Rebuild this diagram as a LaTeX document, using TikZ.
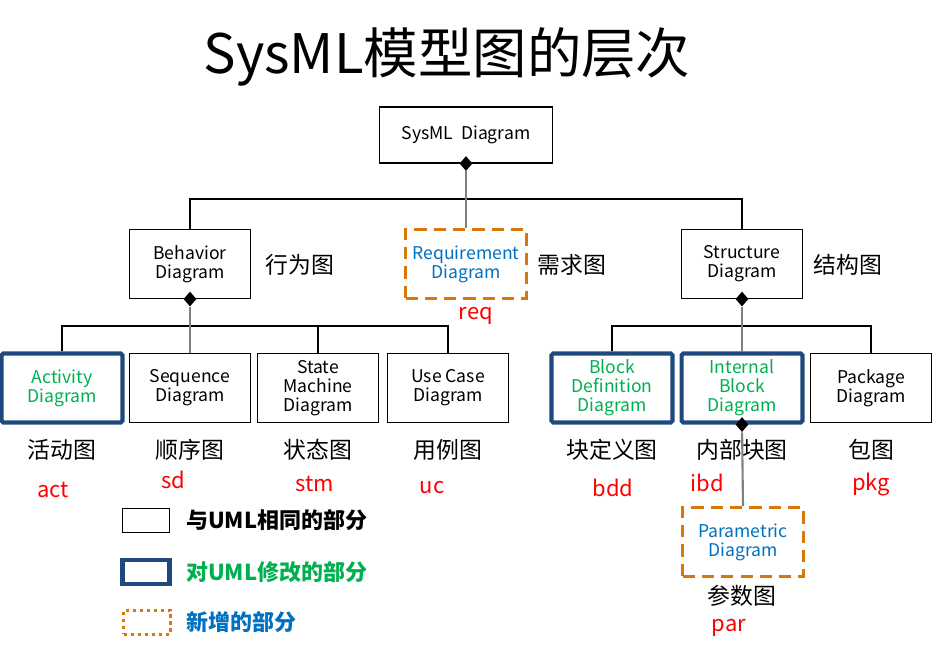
\documentclass[tikz,border=0pt]{standalone}
\usepackage{fontspec}
\setmainfont{Noto Sans CJK SC}
\usetikzlibrary{calc}
\usetikzlibrary{shapes.geometric}
\definecolor{modblue}{RGB}{31,73,125}
\definecolor{newblue}{RGB}{0,112,192}
\definecolor{modgreen}{RGB}{0,176,80}
\definecolor{addorange}{RGB}{217,120,10}
\tikzset{
  dgm/.style={draw,line width=0.6pt,minimum width=2.42cm,minimum height=1.38cm,
    align=center,inner sep=1pt,font=\fontsize{10}{10.8}\selectfont},
  modified/.style={dgm,draw=modblue,line width=2.3pt,rounded corners=1pt,text=modgreen},
  added/.style={dgm,draw=addorange,line width=1.7pt,dash pattern=on 7pt off 4pt,text=newblue},
  cname/.style={font=\fontsize{13}{15}\selectfont},
  abbr/.style={text=red,font=\fontsize{12.5}{14}\selectfont},
  dmd/.style={diamond,fill=black,inner sep=0pt,minimum width=0.26cm,minimum height=0.3cm},
  bus/.style={line width=0.6pt},
  own/.style={draw=black!50,line width=1.2pt},
  legbox/.style={draw,minimum width=0.94cm,minimum height=0.48cm,inner sep=0pt},
  legtext/.style={anchor=west,font=\bfseries\fontsize{12.5}{14}\selectfont}
}

\begin{document}
\begin{tikzpicture}[x=0.02cm,y=-0.02cm]
    \useasboundingbox (0,0) rectangle (933,647);
    \node (title) at (447,57) {\fontsize{31}{34}\selectfont SysML模型图的层次};

    \node[dgm,minimum width=3.46cm,minimum height=1.12cm] (top) at (466,135) {SysML\ \ Diagram};
    \node[dgm] (beh) at (190,264) {Behavior\\Diagram};
    \node[added] (req) at (466,264) {Requirement\\Diagram};
    \node[dgm] (str) at (742,264) {Structure\\Diagram};
    \node[cname] (lbeh) at (300,265) {行为图};
    \node[cname] (lreq) at (572,265) {需求图};
    \node[cname] (lstr) at (848,265) {结构图};
    \node[abbr] (areq) at (476,316) {req};

    \node[modified] (act) at (62,388) {Activity\\Diagram};
    \node[dgm] (seq) at (190,388) {Sequence\\Diagram};
    \node[dgm] (stm) at (318,388) {State\\Machine\\Diagram};
    \node[dgm] (uc) at (448,388) {Use Case\\Diagram};
    \node[modified] (bdd) at (612,388) {Block\\Definition\\Diagram};
    \node[modified] (ibd) at (742,388) {Internal\\Block\\Diagram};
    \node[dgm] (pkg) at (871,388) {Package\\Diagram};
    \node[added] (par) at (743,542) {Parametric\\Diagram};

    \node[cname] (lact) at (62,450) {活动图};
    \node[cname] (lseq) at (190,450) {顺序图};
    \node[cname] (lstm) at (318,450) {状态图};
    \node[cname] (luc) at (448,450) {用例图};
    \node[cname] (lbdd) at (612,450) {块定义图};
    \node[cname] (libd) at (742,450) {内部块图};
    \node[cname] (lpkg) at (871,450) {包图};
    \node[cname] (lpar) at (742,596) {参数图};

    \node[abbr] (aact) at (53,490) {act};
    \node[abbr] (aseq) at (173,480) {sd};
    \node[abbr] (astm) at (315,484) {stm};
    \node[abbr] (auc) at (432,488) {uc};
    \node[abbr] (abdd) at (613,488) {bdd};
    \node[abbr] (aibd) at (707,483) {ibd};
    \node[abbr] (apkg) at (871,484) {pkg};
    \node[abbr] (apar) at (729,628) {par};

    \node[dmd] (d1) at (top.south) {};
    \node[dmd] (d2) at (beh.south) {};
    \node[dmd] (d3) at (str.south) {};
    \node[dmd] (d4) at (ibd.south) {};

    \coordinate (bus1) at (466,199);
    \coordinate (bus2) at (190,326);
    \coordinate (bus3) at (742,326);
    \draw[bus] (beh.north) |- (bus1) -| (str.north);
    \draw[bus] (act.north) |- (bus2) -| (uc.north);
    \draw[bus] (stm.north) -- (stm.north |- bus2);
    \draw[bus] (bdd.north) |- (bus3) -| (pkg.north);
    \draw[own] (d1) -- (req.north);
    \draw[own] (d2) -- (seq.north);
    \draw[own] (d3) -- (ibd.north);
    \draw[own] (d4) -- (par.north);

    \node[legbox] (leg1) at (146,520) {};
    \node[legbox,draw=modblue,line width=2.3pt] (leg2) at (146,572) {};
    \node[legbox,draw=addorange,line width=1.7pt,dash pattern=on 2pt off 2pt] (leg3) at (147,622) {};
    \node[legtext] (tleg1) at (180,520) {与UML相同的部分};
    \node[legtext,text=modgreen] (tleg2) at (180,572) {对UML修改的部分};
    \node[legtext,text=newblue] (tleg3) at (180,622) {新增的部分};
\end{tikzpicture}
\end{document}
